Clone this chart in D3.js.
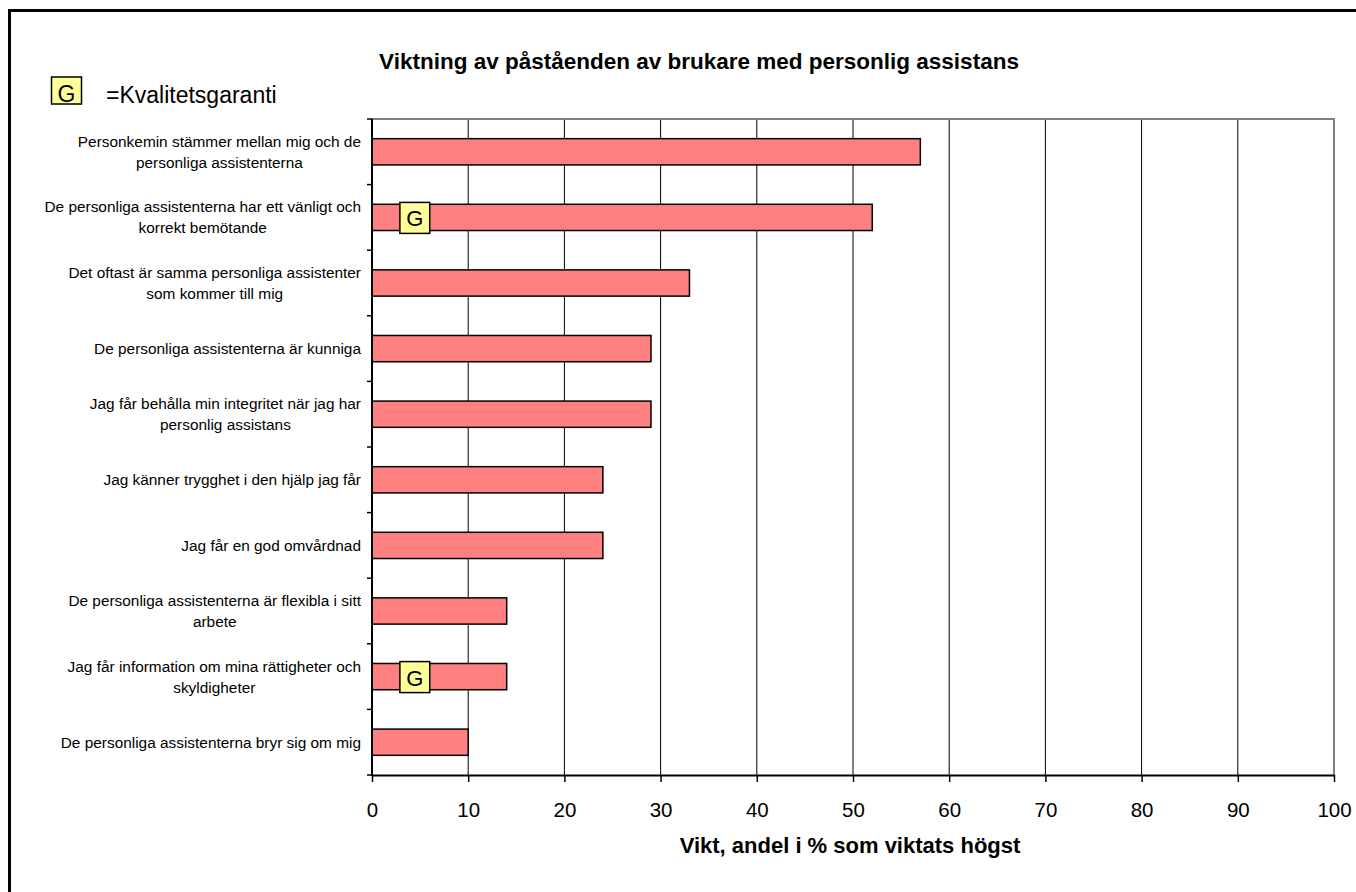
<!DOCTYPE html>
<html>
<head>
<meta charset="utf-8">
<script src="https://cdn.jsdelivr.net/npm/d3@7"></script>
<style>
  body { margin: 0; background: #fff; }
  text { font-family: Arial, "Liberation Sans", sans-serif; }
</style>
</head>
<body>
<svg id="chart" width="1356" height="892"></svg>
<script>
// statements, top to bottom, each one split into its display lines
const categories = [
  ['Personkemin stämmer mellan mig och de', 'personliga assistenterna'],
  ['De personliga assistenterna har ett vänligt och', 'korrekt bemötande'],
  ['Det oftast är samma personliga assistenter', 'som kommer till mig'],
  ['De personliga assistenterna är kunniga'],
  ['Jag får behålla min integritet när jag har', 'personlig assistans'],
  ['Jag känner trygghet i den hjälp jag får'],
  ['Jag får en god omvårdnad'],
  ['De personliga assistenterna är flexibla i sitt', 'arbete'],
  ['Jag får information om mina rättigheter och', 'skyldigheter'],
  ['De personliga assistenterna bryr sig om mig']
];
const values = [57, 52, 33, 29, 29, 24, 24, 14, 14, 10];
// which statements carry the "G" quality guarantee mark
const guarantee = [false, true, false, false, false, false, false, false, true, false];
const xTicks = [0, 10, 20, 30, 40, 50, 60, 70, 80, 90, 100];

const title = 'Viktning av påståenden av brukare med personlig assistans';
const xTitle = 'Vikt, andel i % som viktats högst';
const legendText = '=Kvalitetsgaranti';

const svg = d3.select('#chart');
const plotLeft = 372, plotRight = 1334, plotTop = 119, plotBottom = 775;

svg.append('rect').attr('width', 1356).attr('height', 892).attr('fill', '#fff');
// outer chart border (only top and left are inside the window)
svg.append('rect')
  .attr('x', 9.5).attr('y', 10.5)
  .attr('width', 1400).attr('height', 900)
  .attr('fill', 'none').attr('stroke', '#000').attr('stroke-width', 3);

const x = d3.scaleLinear().domain([0, 100]).range([plotLeft, plotRight]);
const ids = categories.map((d, i) => i);
const y = d3.scaleBand().domain(ids).range([plotTop, plotBottom])
  .paddingInner(0.6).paddingOuter(0.3);

// gridlines
svg.append('g')
  .selectAll('line')
  .data(xTicks.slice(1, -1))
  .join('line')
  .attr('x1', d => x(d)).attr('x2', d => x(d))
  .attr('y1', plotTop).attr('y2', plotBottom)
  .attr('stroke', '#000').attr('stroke-width', 1);

// plot frame top/right in grey
svg.append('path')
  .attr('d', `M${plotLeft},${plotTop}H${plotRight}V${plotBottom}`)
  .attr('fill', 'none').attr('stroke', '#808080').attr('stroke-width', 2);

// bars
svg.append('g')
  .selectAll('rect')
  .data(values)
  .join('rect')
  .attr('x', x(0))
  .attr('y', (d, i) => y(i))
  .attr('width', d => x(d) - x(0))
  .attr('height', y.bandwidth())
  .attr('fill', '#FF8080')
  .attr('stroke', '#000')
  .attr('stroke-width', 1.5);

// G markers
const gBoxes = svg.append('g')
  .selectAll('g')
  .data(ids.filter(i => guarantee[i]))
  .join('g')
  .attr('transform', i => `translate(${x(2.9)},${y(i) + y.bandwidth() / 2 - 15})`);
gBoxes.append('rect')
  .attr('width', x(6) - x(2.9)).attr('height', 31)
  .attr('fill', '#FFFF99').attr('stroke', '#000').attr('stroke-width', 1.5);
gBoxes.append('text')
  .attr('x', (x(6) - x(2.9)) / 2).attr('y', 24)
  .attr('text-anchor', 'middle')
  .attr('font-size', 22)
  .text('G');

// x axis
const xAxis = svg.append('g')
  .attr('transform', `translate(0,${plotBottom})`)
  .call(d3.axisBottom(x).tickValues(xTicks).tickSizeInner(7).tickSizeOuter(0).tickPadding(20));
xAxis.select('.domain').attr('stroke-width', 2);
xAxis.selectAll('.tick line').attr('stroke-width', 1.5);
xAxis.selectAll('.tick text')
  .attr('font-size', 20.5)
  .attr('font-family', 'Arial, "Liberation Sans", sans-serif')
  .attr('fill', '#000');

// y axis line and ticks on band boundaries
const step = y.step();
const bounds = d3.range(categories.length + 1).map(i => y(0) - step * 0.3 + i * step);
svg.append('line')
  .attr('x1', plotLeft).attr('x2', plotLeft).attr('y1', plotTop).attr('y2', plotBottom + 1)
  .attr('stroke', '#000').attr('stroke-width', 2);
svg.append('g')
  .selectAll('line')
  .data(bounds)
  .join('line')
  .attr('x1', plotLeft - 5).attr('x2', plotLeft)
  .attr('y1', d => d).attr('y2', d => d)
  .attr('stroke', '#000').attr('stroke-width', 1.5);

// category labels: lines centred on each other, block right-aligned
const labelRight = 361;
const lineGap = 21;
categories.forEach((lines, i) => {
  const cy = y(i) + y.bandwidth() / 2;
  const g = svg.append('g');
  const texts = lines.map((t, k) => g.append('text')
    .attr('font-size', 15.4)
    .attr('text-anchor', 'middle')
    .attr('y', cy + (k - (lines.length - 1) / 2) * lineGap + 5.5)
    .text(t));
  const w = d3.max(texts, t => t.node().getComputedTextLength());
  texts.forEach(t => t.attr('x', labelRight - w / 2));
});

// titles
svg.append('text')
  .attr('x', 699).attr('y', 69)
  .attr('text-anchor', 'middle')
  .attr('font-size', 22.5).attr('font-weight', 'bold')
  .text(title);
svg.append('text')
  .attr('x', 850).attr('y', 853)
  .attr('text-anchor', 'middle')
  .attr('font-size', 22).attr('font-weight', 'bold')
  .text(xTitle);

// legend
svg.append('rect')
  .attr('x', 51.5).attr('y', 77)
  .attr('width', 30).attr('height', 27)
  .attr('fill', '#FFFF99').attr('stroke', '#000').attr('stroke-width', 1.5);
svg.append('text')
  .attr('x', 66.5).attr('y', 102)
  .attr('text-anchor', 'middle')
  .attr('font-size', 23)
  .text('G');
svg.append('text')
  .attr('x', 106).attr('y', 103)
  .attr('font-size', 23)
  .text(legendText);
</script>
</body>
</html>
